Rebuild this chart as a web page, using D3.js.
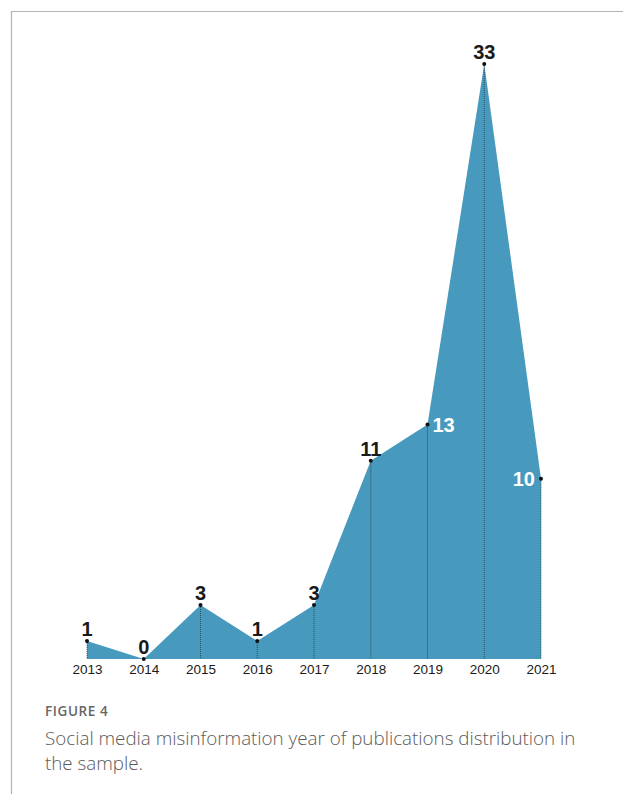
<!DOCTYPE html>
<html>
<head>
<meta charset="utf-8">
<title>Figure 4</title>
<style>
  body { margin: 0; background: #fff; }
  svg { display: block; }
</style>
</head>
<body>
<svg width="623" height="794"></svg>
<script src="https://d3js.org/d3.v7.min.js"></script>
<script>
// publications per year
var years = ['2013', '2014', '2015', '2016', '2017', '2018', '2019', '2020', '2021'];
var counts = [1, 0, 3, 1, 3, 11, 13, 33, 10];
// where each value label sits: above, right (white), left (white)
var labelPos = ['top', 'top', 'top', 'top', 'top', 'top', 'right', 'top', 'left'];

var svg = d3.select('svg');

// frame
svg.append('path')
  .attr('d', 'M11.5,794 L11.5,11.5 L623,11.5')
  .attr('fill', 'none')
  .attr('stroke', '#b3b3b3')
  .attr('stroke-width', 1.2);

var x = d3.scalePoint().domain(years).range([87, 541]);
var y = d3.scaleLinear().domain([0, 33]).range([659, 64]);

var data = years.map(function(d, i) { return { year: d, n: counts[i], pos: labelPos[i] }; });

var area = d3.area()
  .x(function(d) { return x(d.year); })
  .y0(y(0))
  .y1(function(d) { return y(d.n); });

svg.append('path')
  .datum(data)
  .attr('d', area)
  .attr('fill', '#4799bd');

// dotted drop lines
svg.selectAll('.drop')
  .data(data)
  .enter()
  .append('line')
  .attr('x1', function(d) { return x(d.year); })
  .attr('x2', function(d) { return x(d.year); })
  .attr('y1', function(d) { return y(d.n); })
  .attr('y2', y(0))
  .attr('stroke', '#2a3a44')
  .attr('stroke-width', 0.8)
  .attr('stroke-dasharray', '1,1');

svg.selectAll('.pt')
  .data(data)
  .enter()
  .append('circle')
  .attr('cx', function(d) { return x(d.year); })
  .attr('cy', function(d) { return y(d.n); })
  .attr('r', 2)
  .attr('fill', '#111');

// value labels
svg.selectAll('.val')
  .data(data)
  .enter()
  .append('text')
  .text(function(d) { return d.n; })
  .attr('font-family', 'Liberation Sans, Arial, sans-serif')
  .attr('font-weight', 'bold')
  .attr('font-size', '20px')
  .attr('fill', function(d) { return d.pos == 'top' ? '#1a1a1a' : '#fff'; })
  .attr('text-anchor', function(d) {
    if (d.pos == 'right') return 'start';
    if (d.pos == 'left') return 'end';
    return 'middle';
  })
  .attr('x', function(d) {
    if (d.pos == 'right') return x(d.year) + 5;
    if (d.pos == 'left') return x(d.year) - 6;
    return x(d.year);
  })
  .attr('y', function(d) {
    if (d.pos == 'top') return y(d.n) - 5;
    return y(d.n) + 7;
  });

// year axis, no line or ticks
var axis = svg.append('g')
  .attr('transform', 'translate(0,' + y(0) + ')')
  .call(d3.axisBottom(x).tickSize(0).tickPadding(5));
axis.select('.domain').remove();
axis.selectAll('text')
  .attr('font-family', 'Liberation Sans, Arial, sans-serif')
  .attr('font-size', '13.5px')
  .attr('fill', '#1a1a1a');

// caption
svg.append('text')
  .text('FIGURE 4')
  .attr('x', 45)
  .attr('y', 716)
  .attr('font-family', 'Open Sans, sans-serif')
  .attr('font-weight', 600)
  .attr('font-size', '13.5px')
  .attr('letter-spacing', '0.6px')
  .attr('fill', '#666');

svg.append('text')
  .text('Social media misinformation year of publications distribution in')
  .attr('x', 45)
  .attr('y', 745)
  .attr('font-family', 'Open Sans, sans-serif')
  .attr('font-weight', 300)
  .attr('font-size', '18.8px')
  .attr('fill', '#5a5a5a');

svg.append('text')
  .text('the sample.')
  .attr('x', 45)
  .attr('y', 770)
  .attr('font-family', 'Open Sans, sans-serif')
  .attr('font-weight', 300)
  .attr('font-size', '18.8px')
  .attr('fill', '#5a5a5a');
</script>
</body>
</html>
